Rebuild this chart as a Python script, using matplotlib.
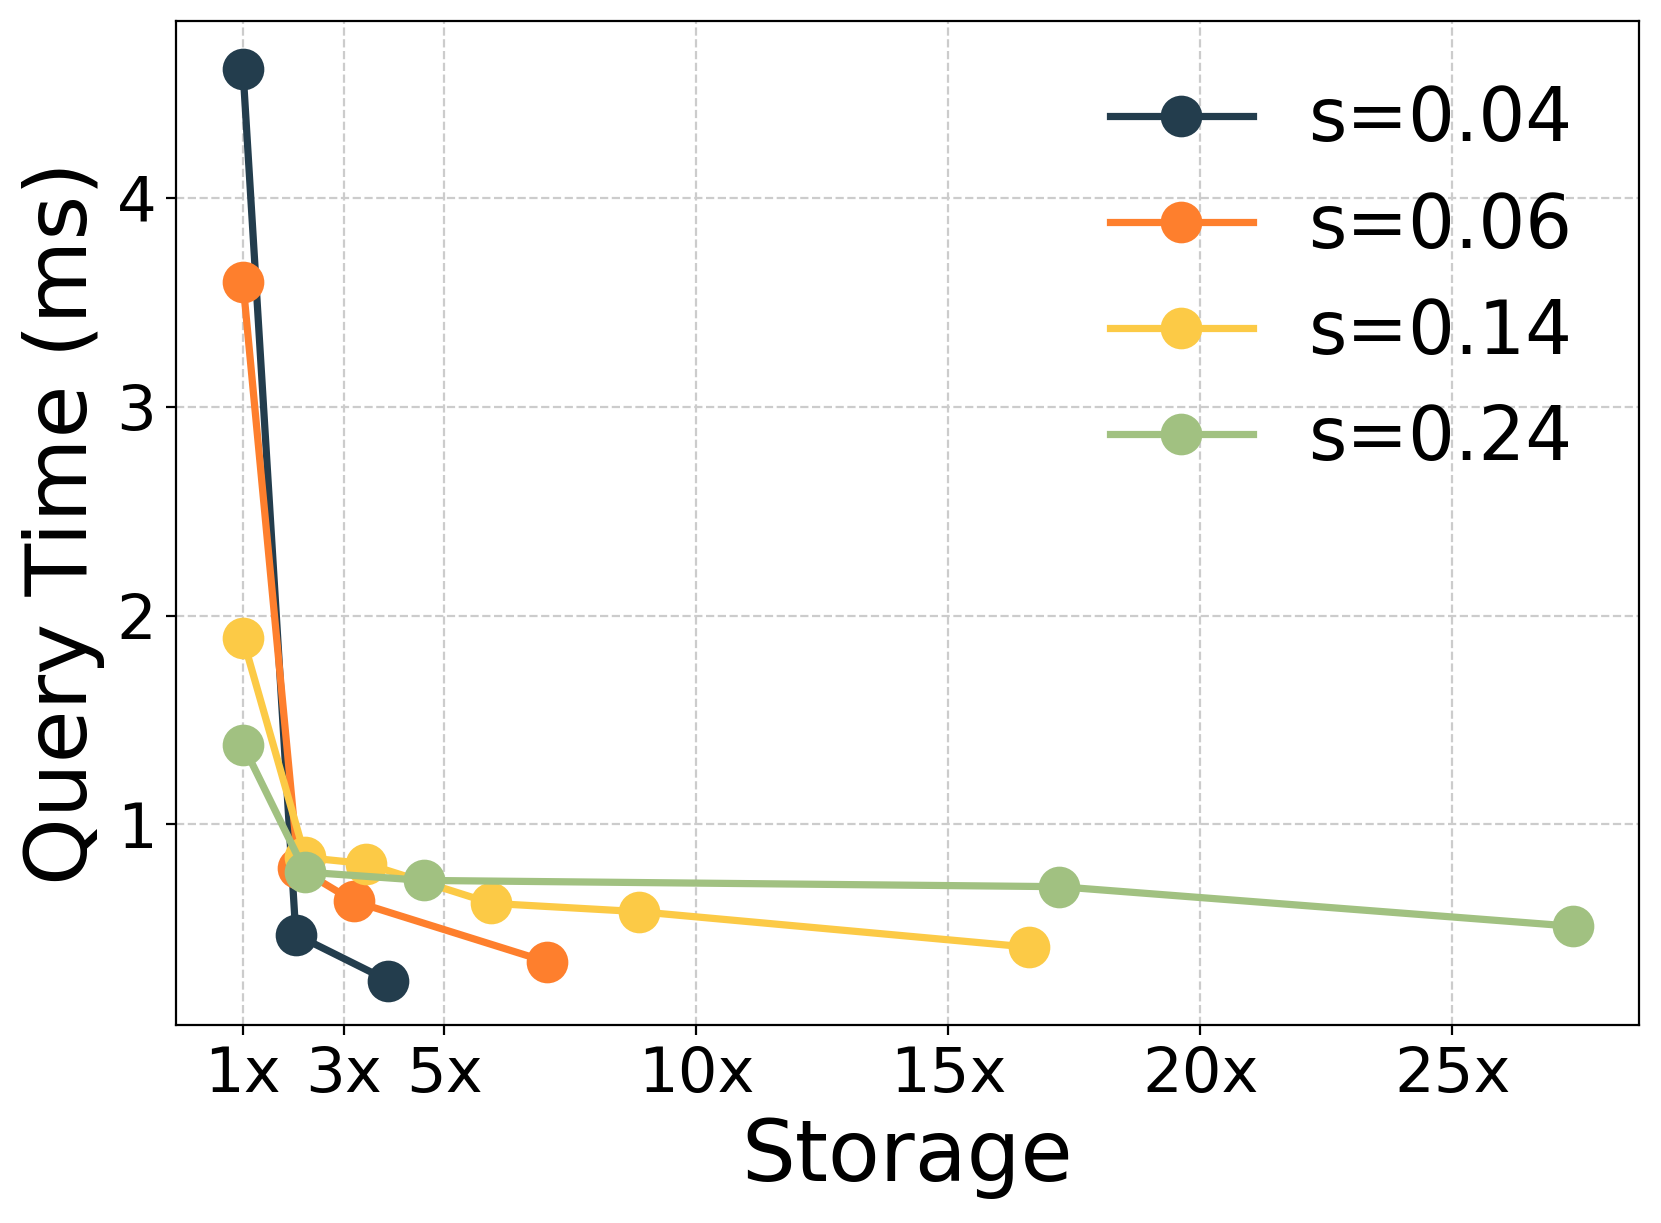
import matplotlib
matplotlib.use("Agg")
import matplotlib.pyplot as plt

labels = ["s=0.04", "s=0.06", "s=0.14", "s=0.24"]
colors = ["#233D4D", "#FE7F2D", "#FCCA46", "#A1C181"]
x04 = [1.0, 2.05, 3.88]
y04 = [4.62, 0.47, 0.25]
x06 = [1.0, 2.1, 3.2, 7.03]
y06 = [3.60, 0.79, 0.63, 0.34]
x14 = [1.0, 2.24, 3.45, 5.93, 8.87, 16.6]
y14 = [1.89, 0.84, 0.81, 0.62, 0.58, 0.41]
x24 = [1.0, 2.24, 4.59, 17.2, 27.4]
y24 = [1.38, 0.77, 0.73, 0.70, 0.51]
xticks = [1, 3, 5, 10, 15, 20, 25]
xticklabels = ["1x", "3x", "5x", "10x", "15x", "20x", "25x"]
yticks = [1, 2, 3, 4]

fig = plt.figure(figsize=(8.305, 6.115), dpi=200)
ax = fig.add_axes([0.1059, 0.1616, 0.9866 - 0.1059, 0.9827 - 0.1616])
for xs, ys, c, l in zip([x04, x06, x14, x24], [y04, y06, y14, y24], colors, labels):
    ax.plot(xs, ys, marker="o", color=c, label=l, linewidth=2.6, markersize=14)
ax.set_xlim(-0.33, 28.7)
ax.set_ylim(0.035, 4.85)
ax.set_xticks(xticks)
ax.set_xticklabels(xticklabels)
ax.set_yticks(yticks)
ax.tick_params(labelsize=22.5)
ax.grid(True, linestyle="--", color="#cccccc", linewidth=0.8)
ax.set_xlabel("Storage", fontsize=30.5)
ax.set_ylabel("Query Time (ms)", fontsize=31)
ax.legend(loc="upper right", fontsize=26.5, frameon=False, handlelength=1.95,
          handletextpad=0.75, labelspacing=0.45, bbox_to_anchor=(1.0, 1.003))
fig.savefig("out.png", dpi=200)
